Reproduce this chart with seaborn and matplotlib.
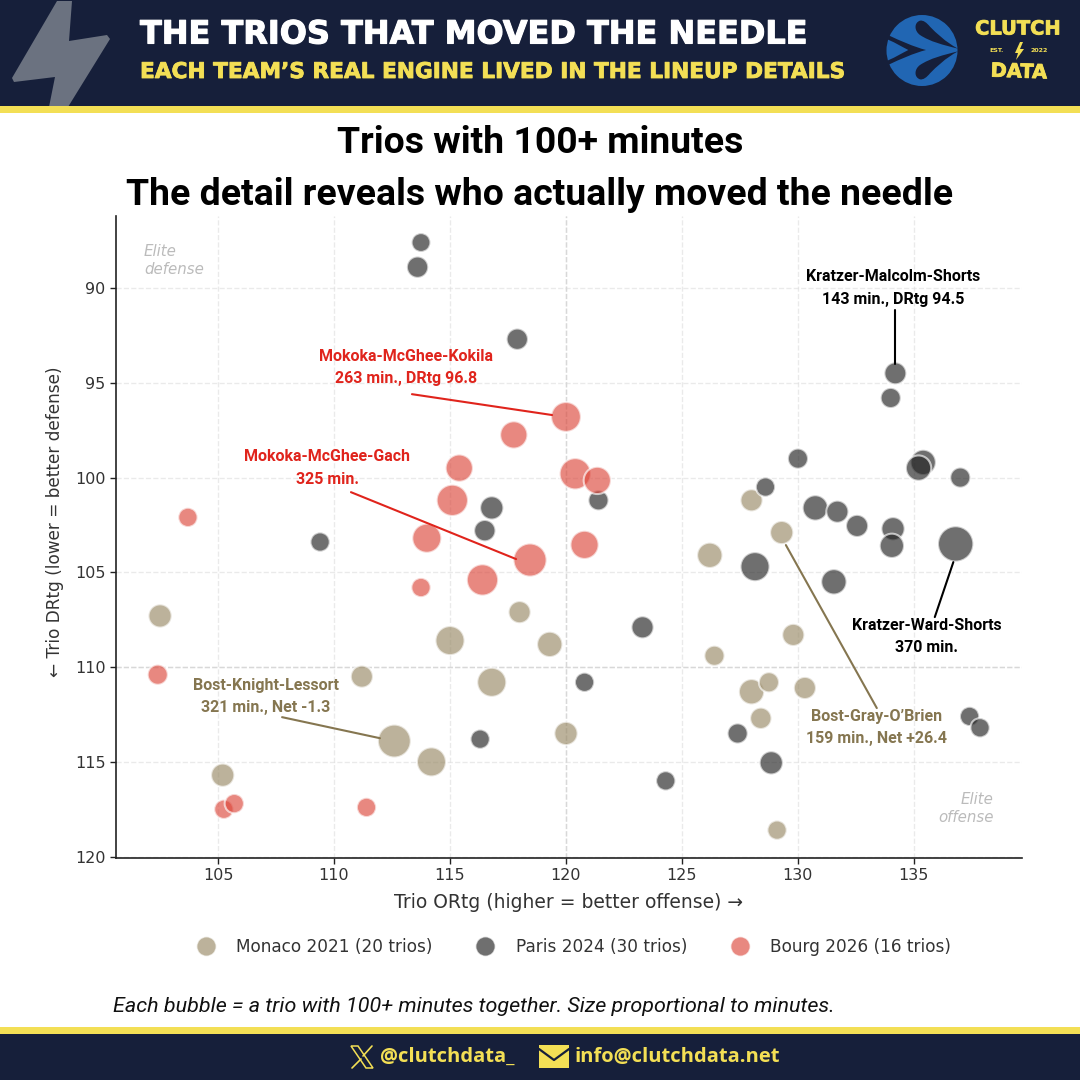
import numpy as np
import pandas as pd
import matplotlib
matplotlib.use('Agg')
import matplotlib.pyplot as plt
import matplotlib.patheffects as pe
import seaborn as sns
from matplotlib.lines import Line2D
from matplotlib.patches import Rectangle, Polygon, Circle, PathPatch
from matplotlib.path import Path

NAVY = '#161f3a'
YELLOW = '#f3df55'
RED = '#e0241c'
BROWN = '#857650'

# values
monaco_ortg = [102.5, 105.2, 111.2, 112.6, 114.2, 115.0, 116.8, 118.0, 119.3, 120.0,
               126.2, 126.4, 128.0, 129.3, 128.0, 128.75, 128.4, 129.8, 130.3, 129.1]
monaco_drtg = [107.3, 115.7, 110.5, 113.9, 115.0, 108.6, 110.8, 107.1, 108.8, 113.5,
               104.1, 109.4, 101.2, 102.9, 111.3, 110.8, 112.7, 108.3, 111.1, 118.6]
monaco_min = [160, 160, 145, 321, 250, 250, 250, 145, 190, 160,
              190, 120, 145, 159, 190, 120, 135, 145, 145, 110]

paris_ortg = [113.75, 113.6, 117.9, 109.4, 116.5, 116.8, 121.4, 123.3, 120.8, 116.3,
              124.3, 127.4, 128.85, 128.15, 128.6, 130.0, 130.75, 131.7, 132.55, 131.55,
              134.1, 134.05, 134.0, 134.2, 135.4, 135.2, 137.0, 136.8, 137.4, 137.85]
paris_drtg = [87.6, 88.9, 92.7, 103.4, 102.8, 101.6, 101.2, 107.9, 110.8, 113.8,
              116.0, 113.5, 115.05, 104.7, 100.5, 99.0, 101.6, 101.8, 102.55, 105.5,
              102.7, 103.6, 95.8, 94.5, 99.2, 99.5, 100.0, 103.5, 112.6, 113.2]
paris_min = [105, 135, 135, 110, 135, 160, 120, 145, 110, 110,
             110, 120, 160, 250, 110, 120, 190, 145, 145, 190,
             160, 175, 120, 143, 190, 190, 120, 370, 110, 110]

bourg_ortg = [103.7, 102.4, 105.25, 105.7, 111.4, 113.75, 114.0, 115.1,
              115.4, 116.4, 118.45, 117.75, 120.0, 120.4, 121.35, 120.8]
bourg_drtg = [102.1, 110.4, 117.5, 117.2, 117.4, 105.8, 103.2, 101.2,
              99.5, 105.4, 104.35, 97.75, 96.8, 99.8, 100.15, 103.55]
bourg_min = [110, 120, 110, 110, 110, 110, 250, 290,
             220, 290, 325, 220, 263, 290, 220, 235]

team_names = ['Monaco 2021 (20 trios)', 'Paris 2024 (30 trios)', 'Bourg 2026 (16 trios)']
team_colors = ['#988965', '#222222', '#dc483c']

x_ticks = [105, 110, 115, 120, 125, 130, 135]
y_ticks = [90, 95, 100, 105, 110, 115, 120]

frames = []
for name, xs, ys, mins in zip(team_names,
                              (monaco_ortg, paris_ortg, bourg_ortg),
                              (monaco_drtg, paris_drtg, bourg_drtg),
                              (monaco_min, paris_min, bourg_min)):
    frames.append(pd.DataFrame({'ortg': xs, 'drtg': ys, 'minutes': mins, 'team': name}))
trios = pd.concat(frames, ignore_index=True)

sns.set_style('white')
plt.rcParams['font.family'] = ['DejaVu Sans']

fig = plt.figure(figsize=(10.8, 10.8), dpi=100, facecolor='white')

# page furniture, in pixel coordinates
bg = fig.add_axes([0, 0, 1, 1], zorder=-1)
bg.set_xlim(0, 1080)
bg.set_ylim(1080, 0)
bg.axis('off')
bg.add_patch(Rectangle((0, 0), 1080, 106, color=NAVY, lw=0))
bg.add_patch(Polygon([(57, 1), (72, 1), (69, 41), (107, 35), (110, 39), (68, 107), (49, 107),
                      (55, 77), (14, 82), (12, 78)], closed=True, color='#6b7280', lw=0))
bg.add_patch(Rectangle((0, 106), 1080, 7, color=YELLOW, lw=0))
bg.add_patch(Rectangle((0, 1027), 1080, 7, color=YELLOW, lw=0))
bg.add_patch(Rectangle((0, 1034), 1080, 46, color=NAVY, lw=0))

# the original display face is not installed, so thicken the bold a little
bg.text(140, 35, 'THE TRIOS THAT MOVED THE NEEDLE', color='white', fontsize=23,
        fontweight='bold', va='center', ha='left',
        path_effects=[pe.withStroke(linewidth=0.8, foreground='white')])
bg.text(140, 72, 'EACH TEAM\u2019S REAL ENGINE LIVED IN THE LINEUP DETAILS', color=YELLOW,
        fontsize=15.6, fontweight='bold', va='center', ha='left',
        path_effects=[pe.withStroke(linewidth=0.6, foreground=YELLOW)])


def zp(x, y):
    # logo crop coordinates to page pixels
    return (870 + x / 3, y / 3)


def swirl(pts, codes):
    return PathPatch(Path([zp(*p) for p in pts], codes), color=NAVY, lw=0)


C4 = Path.CURVE4
bg.add_patch(Circle((922, 50.5), 35.5, color='#2166b3', lw=0))
for m in (1, -1):
    # mirrored about the logo's middle
    def f(x, y):
        return (x, 150 + m * (y - 150))
    hook = [f(150, 62), f(132, 68), f(132, 92), f(150, 105), f(180, 125), f(220, 135),
            f(264, 146), f(225, 125), f(200, 100), f(180, 80), f(170, 68), f(160, 60), f(150, 62)]
    bg.add_patch(swirl(hook, [Path.MOVETO] + [C4] * 12))
    band = [f(56, 106), f(90, 122), f(130, 140), f(168, 150), f(115, 150), f(95, 140), f(80, 130), f(52, 118), f(56, 106)]
    bg.add_patch(swirl(band, [Path.MOVETO, C4, C4, C4, Path.LINETO, C4, C4, C4, Path.LINETO]))

bg.text(1018, 29, 'CLUTCH', color=YELLOW, fontsize=14, fontweight='bold', ha='center', va='center',
        path_effects=[pe.withStroke(linewidth=0.6, foreground=YELLOW)])
bg.text(1019, 72, 'DATA', color=YELLOW, fontsize=14, fontweight='bold', ha='center', va='center', rotation=-2,
        path_effects=[pe.withStroke(linewidth=0.6, foreground=YELLOW)])
bg.text(997, 51, 'EST.', color=YELLOW, fontsize=4.5, fontweight='bold', ha='center', va='center')
bg.text(1039, 51, '2022', color=YELLOW, fontsize=4.5, fontweight='bold', ha='center', va='center')
bg.add_patch(Polygon([(1020, 42), (1015, 53), (1018, 53), (1016, 60), (1024, 49), (1020, 49), (1023, 42)],
                     closed=True, color=YELLOW, lw=0))

bg.text(540, 143, 'Trios with 100+ minutes', fontfamily='Roboto', fontweight='bold',
        fontsize=26.9, ha='center', va='center', color='black')
bg.text(540, 195, 'The detail reveals who actually moved the needle', fontfamily='Roboto',
        fontweight='bold', fontsize=26.9, ha='center', va='center', color='black')
bg.text(113, 1007, 'Each bubble = a trio with 100+ minutes together. Size proportional to minutes.',
        fontfamily='Roboto', fontstyle='italic', fontsize=15.45, ha='left', va='center', color='#111111')

# footer icons and contacts
bg.add_patch(Polygon([(351, 1046), (358, 1046), (373, 1068), (366, 1068)], closed=True,
                     fill=False, ec=YELLOW, lw=1.1))
bg.plot([372, 363], [1046, 1056], color=YELLOW, lw=1.2)
bg.plot([361, 352], [1059, 1068], color=YELLOW, lw=1.2)
bg.add_patch(Rectangle((539, 1045), 30, 23, color=YELLOW, lw=0))
bg.plot([539, 554, 569], [1049, 1060, 1049], color=NAVY, lw=1.6)
bg.text(380, 1057, '@clutchdata_', fontfamily='Open Sans', fontweight='bold', fontsize=14.5,
        color=YELLOW, va='center', ha='left')
bg.text(574, 1057, 'info@clutchdata.net', fontfamily='Open Sans', fontweight='bold', fontsize=14.5,
        color=YELLOW, va='center', ha='left')

# main chart
ax = fig.add_axes([116 / 1080, 1 - 858 / 1080, 906 / 1080, 642 / 1080], facecolor='none')
sns.scatterplot(data=trios, x='ortg', y='drtg', hue='team', hue_order=team_names,
                palette=team_colors, size='minutes', size_norm=(100, 400), sizes=(175, 700),
                alpha=0.65, edgecolor='white', linewidth=1.5, legend=False, ax=ax, zorder=3)
ax.set_xlim(100.6, 139.66)
ax.set_ylim(120.07, 86.2)
ax.set_xticks(x_ticks)
ax.set_yticks(y_ticks)
ax.tick_params(axis='both', length=4, width=1, labelsize=11.5, color='#222222', labelcolor='#333333', left=True, bottom=True)
ax.grid(True, color='#dddddd', ls='--', lw=1, alpha=0.6)
ax.set_axisbelow(True)
ax.axvline(120, color='#d8d8d8', ls='--', lw=1, zorder=1)
ax.axhline(110, color='#d8d8d8', ls='--', lw=1, zorder=1)
ax.set_xlabel('Trio ORtg (higher = better offense) \u2192', fontsize=13.5, color='#333333', labelpad=7)
ax.set_ylabel('\u2190 Trio DRtg (lower = better defense)', fontsize=12.2, color='#333333')
ax.yaxis.set_label_coords(-0.057, 0.523)
sns.despine(ax=ax)
for side in ('left', 'bottom'):
    ax.spines[side].set_color('#222222')
    ax.spines[side].set_linewidth(1.2)

ax.text(101.8, 88.57, 'Elite\ndefense', style='italic', color='#bbbbbb', fontsize=10.8, ha='left', va='center', linespacing=1.25)
ax.text(138.45, 117.44, 'Elite\noffense', style='italic', color='#bbbbbb', fontsize=10.8, ha='right', va='center', linespacing=1.25)

# callouts: label, colour, label centre, line start, line end
callouts = [
    ('Mokoka-McGhee-Kokila\n263 min., DRtg 96.8', RED, (113.1, 94.2), (113.36, 95.6), (119.4, 96.7)),
    ('Mokoka-McGhee-Gach\n325 min.', RED, (109.7, 99.5), (110.73, 100.77), (117.85, 104.3)),
    ('Kratzer-Malcolm-Shorts\n143 min., DRtg 94.5', 'black', (134.1, 90.0), (134.18, 91.16), (134.18, 94.0)),
    ('Kratzer-Ward-Shorts\n370 min.', 'black', (135.56, 108.4), (135.9, 107.36), (136.7, 104.46)),
    ('Bost-Knight-Lessort\n321 min., Net -1.3', BROWN, (107.07, 111.55), (107.76, 112.64), (111.98, 113.75)),
    ('Bost-Gray-O\u2019Brien\n159 min., Net +26.4', BROWN, (133.4, 113.2), (129.48, 103.56), (133.4, 112.16)),
]
for label, color, centre, start, end in callouts:
    ax.text(centre[0], centre[1], label, color=color, fontfamily='Roboto', fontweight='bold',
            fontsize=11.5, ha='center', va='center', linespacing=1.6, zorder=5)
    ax.plot([start[0], end[0]], [start[1], end[1]], color=color, lw=1.5, zorder=4)

handles = [Line2D([], [], marker='o', ls='', ms=14, color=c, alpha=0.65, mec='white', mew=1)
           for c in team_colors]
fig.legend(handles, team_names, ncol=3, frameon=False, fontsize=12.2, labelcolor='#333333',
           loc='center', bbox_to_anchor=(570 / 1080, 1 - 947 / 1080), columnspacing=2.1, handletextpad=0.8)

fig.savefig('out.png', dpi=100)
